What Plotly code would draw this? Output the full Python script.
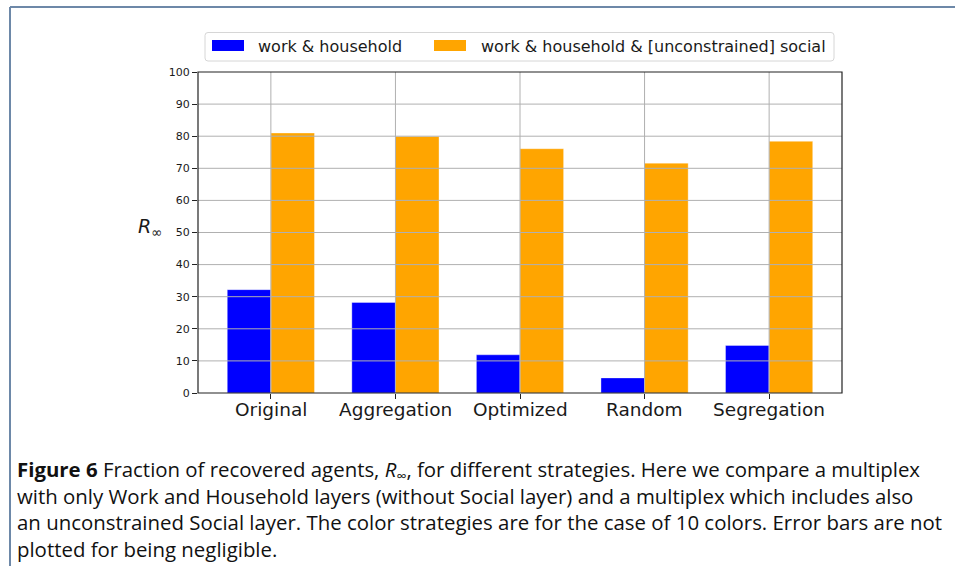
import plotly.graph_objects as go

# Recovered fraction R_inf (%) per coloring strategy
strategies = ["Original", "Aggregation", "Optimized", "Random", "Segregation"]
work_household = [32.2, 28.2, 11.9, 4.7, 14.8]
work_household_social = [81.0, 79.9, 76.1, 71.6, 78.4]
series_names = ["work & household", "work & household & [unconstrained] social"]
series_colors = ["#0000ff", "#ffa500"]
y_ticks = [0, 10, 20, 30, 40, 50, 60, 70, 80, 90, 100]

caption_lines = [
    "<b>Figure 6</b> Fraction of recovered agents, <i>R</i><sub>∞</sub>, for different strategies. Here we compare a multiplex",
    "with only Work and Household layers (without Social layer) and a multiplex which includes also",
    "an unconstrained Social layer. The color strategies are for the case of 10 colors. Error bars are not",
    "plotted for being negligible.",
]

# page geometry (pixels)
W, H = 955, 566
L, R, T, B = 198, 842, 72, 393


def px(x):
    return (x - L) / (R - L)


def py(y):
    return (B - y) / (B - T)


xpos = list(range(len(strategies)))

fig = go.Figure()
for name, vals, col in zip(series_names, [work_household, work_household_social], series_colors):
    fig.add_trace(go.Bar(
        x=xpos, y=vals, name=name,
        marker=dict(color=col, line=dict(color="rgba(255,255,255,0.35)", width=1)),
        showlegend=False,
    ))

shapes = []
# grid drawn over the bars
for v in y_ticks[1:-1]:
    shapes.append(dict(type="line", xref="x domain", yref="y", x0=0, x1=1, y0=v, y1=v,
                       line=dict(color="#b0b0b0", width=1), layer="above"))
for i in xpos:
    shapes.append(dict(type="line", xref="x", yref="y domain", x0=i, x1=i, y0=0, y1=1,
                       line=dict(color="#b0b0b0", width=1), layer="above"))
# axes frame
shapes.append(dict(type="rect", xref="paper", yref="paper", x0=0, x1=1, y0=0, y1=1,
                   line=dict(color="#222222", width=1.2), layer="above"))

# legend box with rounded corners
lx0, lx1, ly0, ly1, r = 205, 834, 32.5, 61, 3
path = (f"M {px(lx0 + r)},{py(ly0)} L {px(lx1 - r)},{py(ly0)} "
        f"Q {px(lx1)},{py(ly0)} {px(lx1)},{py(ly0 + r)} "
        f"L {px(lx1)},{py(ly1 - r)} Q {px(lx1)},{py(ly1)} {px(lx1 - r)},{py(ly1)} "
        f"L {px(lx0 + r)},{py(ly1)} Q {px(lx0)},{py(ly1)} {px(lx0)},{py(ly1 - r)} "
        f"L {px(lx0)},{py(ly0 + r)} Q {px(lx0)},{py(ly0)} {px(lx0 + r)},{py(ly0)} Z")
shapes.append(dict(type="path", xref="paper", yref="paper", path=path,
                   line=dict(color="#d6d6d6", width=1), fillcolor="white"))
legend_patches = [(212, 244), (434, 466)]
legend_text_x = [256, 479]
annotations = []
for (a, b), tx, name, col in zip(legend_patches, legend_text_x, series_names, series_colors):
    shapes.append(dict(type="rect", xref="paper", yref="paper",
                       x0=px(a), x1=px(b), y0=py(51), y1=py(40),
                       line=dict(width=0), fillcolor=col))
    annotations.append(dict(text=name, xref="paper", yref="paper", x=px(tx), y=py(46),
                            xanchor="left", yanchor="middle", showarrow=False,
                            font=dict(family="DejaVu Sans", size=16, color="#1a1a1a")))

# category labels under the axis
for i, name in zip(xpos, strategies):
    annotations.append(dict(text=name, xref="x", yref="paper", x=i, y=py(410),
                            xanchor="center", yanchor="middle", showarrow=False,
                            font=dict(family="DejaVu Sans", size=18.5, color="#1a1a1a")))

# page frame lines
shapes.append(dict(type="line", xref="paper", yref="paper", x0=px(10), x1=px(W), y0=py(7), y1=py(7),
                   line=dict(color="#6d88a8", width=2)))
shapes.append(dict(type="line", xref="paper", yref="paper", x0=px(10), x1=px(10), y0=py(7), y1=py(H),
                   line=dict(color="#6d88a8", width=2)))

# y-axis title
annotations.append(dict(text="<i>R</i><sub>∞</sub>", xref="paper", yref="paper", x=px(150), y=py(227),
                        xanchor="center", yanchor="middle", showarrow=False,
                        font=dict(family="DejaVu Sans", size=19, color="#1a1a1a")))

# caption block
annotations.append(dict(text="<br>".join(caption_lines), xref="paper", yref="paper",
                        x=px(15), y=py(509), xanchor="left", yanchor="middle", align="left",
                        showarrow=False,
                        font=dict(family="Open Sans", size=20.4, color="#111111")))

fig.update_layout(
    width=W, height=H,
    margin=dict(l=L, r=W - R, t=T, b=H - B, pad=0),
    paper_bgcolor="white", plot_bgcolor="white",
    barmode="group", bargap=0.3, bargroupgap=0,
    shapes=shapes, annotations=annotations,
    xaxis=dict(range=[-0.585, 4.585], tickvals=xpos, showticklabels=False,
               showgrid=False, zeroline=False, ticks="outside", ticklen=5, tickcolor="#222"),
    yaxis=dict(range=[0, 100], tickvals=y_ticks, showgrid=False, zeroline=False,
               ticks="outside", ticklen=5, tickcolor="#222",
               tickfont=dict(family="DejaVu Sans", size=11, color="#1a1a1a")),
)

fig.write_html("out.html")
